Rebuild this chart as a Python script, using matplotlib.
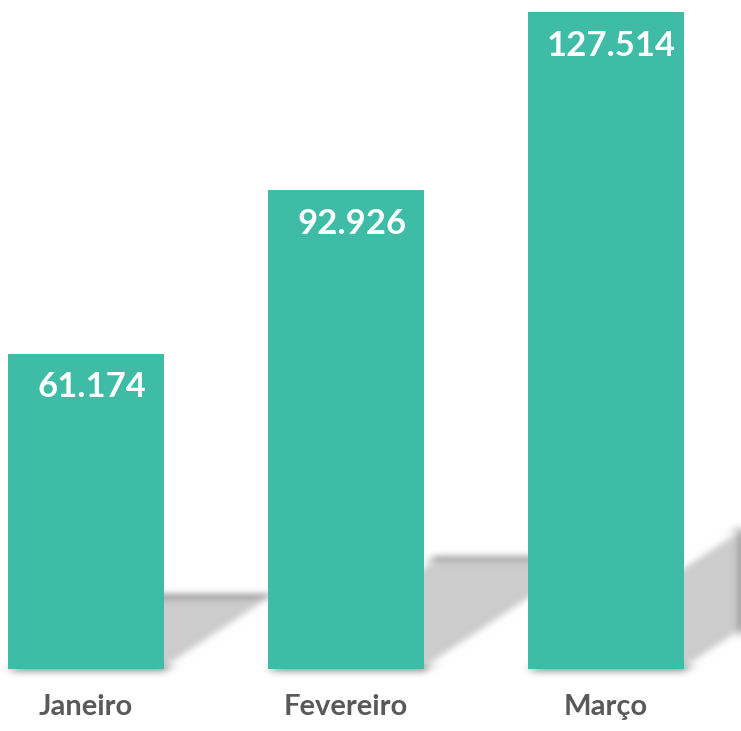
import matplotlib as mpl
import matplotlib.pyplot as plt
from matplotlib.patches import Polygon
import numpy as np

months = ['Janeiro', 'Fevereiro', 'Março']
values = [61.174, 92.926, 127.514]
labels = ['61.174', '92.926', '127.514']

teal = '#3FBCA5'
shadow_grey = '#CCCCCC'
label_grey = '#595959'

mpl.rcParams.update({'font.family': ['Lato', 'DejaVu Sans']})


def blur(im, dpi, sigma=4.0):
    # gaussian blur used as agg filter for the soft shadows
    r = int(sigma * 3)
    pad = r + 2
    a = np.pad(im, ((pad, pad), (pad, pad), (0, 0)))
    k = np.exp(-0.5 * (np.arange(-r, r + 1) / sigma) ** 2)
    k /= k.sum()
    for axis in (0, 1):
        out = np.zeros_like(a)
        for i, w in enumerate(k):
            out += w * np.roll(a, i - r, axis=axis)
        a = out
    return a, -pad, -pad


fig = plt.figure(figsize=(7.41, 7.31), dpi=100, facecolor='w')
ax = fig.add_axes([0, 62 / 731, 1, 669 / 731])

x = np.arange(len(months))
width = 0.6
bars = ax.bar(x, values, width=width, color=teal, zorder=3)

# cast shadows on the floor, going up and to the right
for xi, v in zip(x, values):
    rise = 0.23 * v
    shift = 0.030 * rise
    x0, x1 = xi - width / 2, xi + width / 2
    poly = Polygon([(x0, 0), (x1, 0), (x1 + shift, rise), (x0 + shift, rise)],
                   closed=True, facecolor=shadow_grey, edgecolor='none', zorder=1)
    poly.set_agg_filter(blur)
    ax.add_patch(poly)

for xi, v, lab in zip(x, values, labels):
    ax.annotate(lab, (xi, v), xytext=(4, -24), textcoords='offset points',
                ha='center', va='center', color='white', fontsize=25,
                fontweight='bold', zorder=4)

ax.set_xlim(-0.331, 2.519)
ax.set_ylim(0, 129.9)
ax.set_xticks(x)
ax.set_xticklabels(months, fontsize=21, fontweight='bold', color=label_grey)
ax.tick_params(axis='x', length=0, pad=18)
ax.set_yticks([])
for s in ax.spines.values():
    s.set_visible(False)

fig.savefig('out.png', dpi=100, facecolor='w')
